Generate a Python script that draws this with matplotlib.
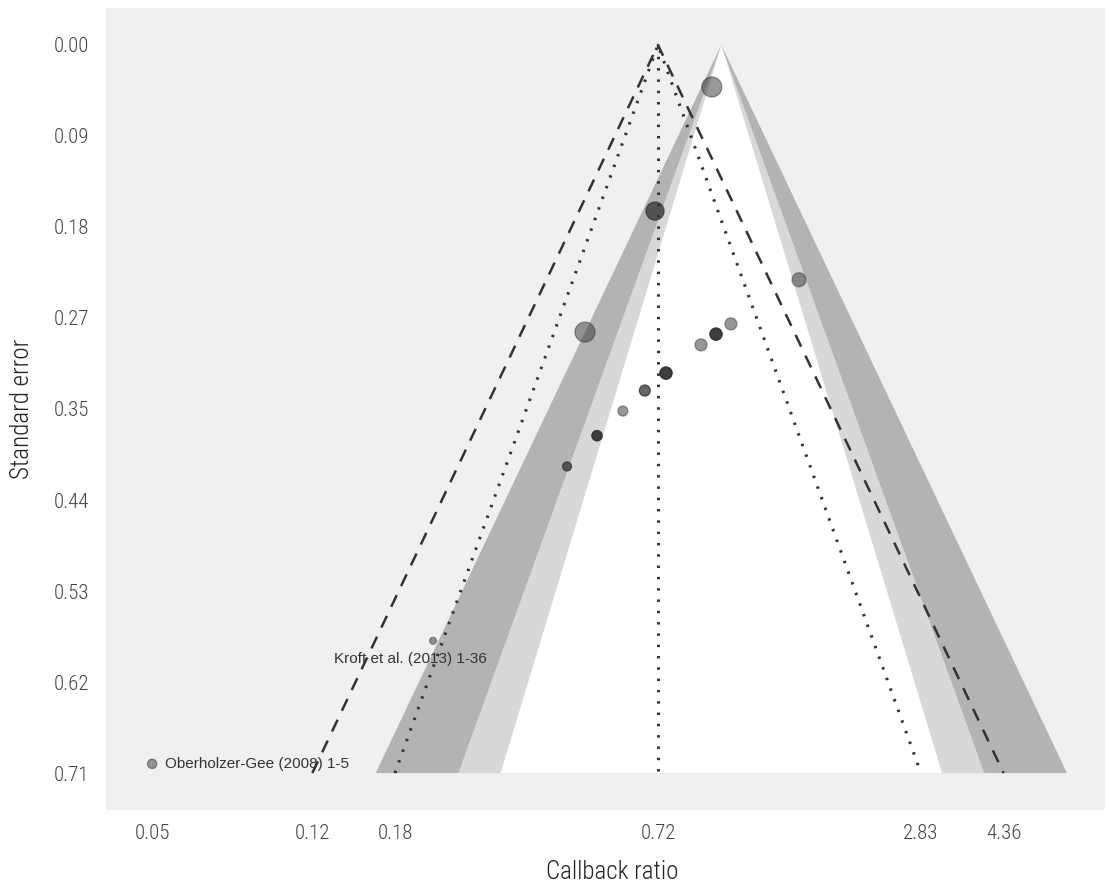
import numpy as np
import matplotlib
matplotlib.use("Agg")
import matplotlib.pyplot as plt

# study estimates: callback ratio, standard error, weight, number of stacked estimates
callback_ratio = [0.951, 0.704, 1.508, 0.486, 1.052, 0.972, 0.898,
                  0.746, 0.667, 0.594, 0.518, 0.442, 0.2175, 0.0492]
std_error = [0.041, 0.162, 0.229, 0.280, 0.272, 0.282, 0.2925,
             0.320, 0.337, 0.357, 0.381, 0.411, 0.581, 0.701]
weight = [100, 81, 49, 100, 36, 36, 36, 36, 30, 25, 25, 20, 12, 22]
n_stacked = [1, 2, 1, 1, 1, 4, 1, 4, 2, 1, 4, 2, 1, 1]
labels = {12: "Kroft et al. (2013) 1-36", 13: "Oberholzer-Gee (2008) 1-5"}

pooled = 0.715
se_max = 0.71
x_tick_labels = ["0.05", "0.12", "0.18", "0.72", "2.83", "4.36"]
y_tick_labels = ["0.00", "0.09", "0.18", "0.27", "0.35", "0.44", "0.53", "0.62", "0.71"]

axis_font = ["Roboto Condensed", "Roboto", "DejaVu Sans"]

fig = plt.figure(figsize=(11.08, 8.85), dpi=100)
ax = fig.add_axes([106 / 1108, 1 - 810 / 885, 999 / 1108, 802 / 885])
ax.set_facecolor("#f0f0f0")
ax.set_xscale("log")

# contour-enhanced regions around the null (ratio = 1)
for z, col in [(2.576, "#b3b3b3"), (1.96, "#d8d8d8"), (1.645, "white")]:
    xs = [np.exp(-z * se_max), 1.0, np.exp(z * se_max)]
    ax.fill(xs, [se_max, 0, se_max], color=col, lw=0, zorder=1)

# pseudo confidence funnel around the pooled estimate
mu = np.log(pooled)
se_line = np.array([se_max, 0, se_max])
ax.plot(np.exp(mu + np.array([-2.576, 0, 2.576]) * se_line), se_line,
        color="#333333", lw=1.8, ls=(0, (5.2, 4)), zorder=2)
ax.plot(np.exp(mu + np.array([-1.96, 0, 1.96]) * se_line), se_line,
        color="#333333", lw=2.2, ls=(0, (0.8, 2.9)), zorder=2)
ax.plot([pooled, pooled], [0, se_max], color="#333333", lw=2.2,
        ls=(0, (0.8, 2.9)), zorder=2)

# studies (stacked estimates drawn on top of each other)
x = np.array(callback_ratio)
y = np.array(std_error)
s = np.array(weight) * 2.07
for k in range(max(n_stacked)):
    m = np.array(n_stacked) > k
    ax.scatter(x[m], y[m], s=s[m], color="#333333", alpha=0.5,
               edgecolor="#333333", linewidth=0.9, zorder=3)

ax.annotate(labels[12], (x[12], y[12]), xytext=(-16, -13),
            textcoords="offset points", ha="center", va="center",
            fontsize=11, color="#333333", family="Liberation Sans", zorder=4)
ax.annotate(labels[13], (x[13], y[13]), xytext=(9, 0),
            textcoords="offset points", ha="left", va="center",
            fontsize=11, color="#333333", family="Liberation Sans", zorder=4)

x_ticks = [min(callback_ratio),
           np.exp(mu - 2.576 * se_max), np.exp(mu - 1.96 * se_max), pooled,
           np.exp(mu + 1.96 * se_max), np.exp(mu + 2.576 * se_max)]
ax.set_xticks(x_ticks)
ax.set_xticklabels(x_tick_labels)
ax.xaxis.set_minor_locator(matplotlib.ticker.NullLocator())
ax.set_yticks(np.linspace(0, se_max, 9))
ax.set_yticklabels(y_tick_labels)
ax.set_xlim(np.exp(-3.256), np.exp(2.03))
ax.set_ylim(0.746, -0.036)
ax.tick_params(axis="x", length=0, labelsize=15, labelcolor="#444444", pad=10)
ax.tick_params(axis="y", length=0, labelsize=15, labelcolor="#444444", pad=12)
for lab in ax.get_xticklabels() + ax.get_yticklabels():
    lab.set_family(axis_font)
    lab.set_weight("light")
for sp in ax.spines.values():
    sp.set_visible(False)

fig.text(612 / 1108, 1 - 872 / 885, "Callback ratio", fontsize=18, family=axis_font,
         weight="light", color="#222222", ha="center", va="center")
fig.text(22 / 1108, 1 - 409 / 885, "Standard error", fontsize=18, family=axis_font,
         weight="light", color="#222222", ha="center", va="center", rotation=90)

fig.savefig("out.png", dpi=100)
